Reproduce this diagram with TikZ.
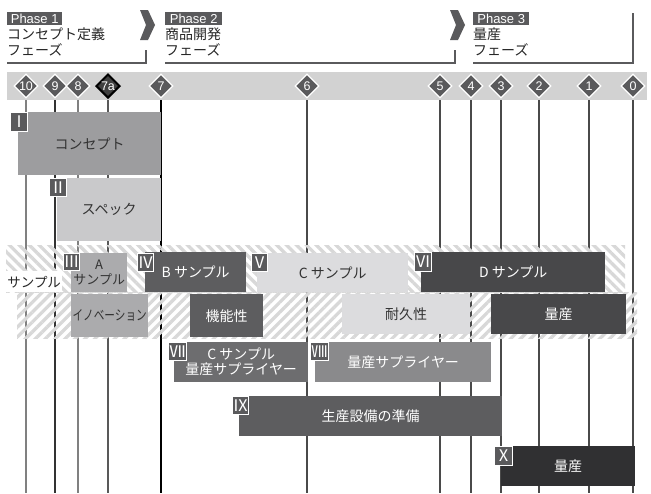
\documentclass[tikz,border=0pt]{standalone}
\usepackage{fontspec}
\setmainfont{Noto Sans CJK JP}
\newfontfamily\latf{Liberation Sans}
\usetikzlibrary{shapes.geometric,patterns.meta}
\definecolor{lab}{HTML}{5A5A5C}
\definecolor{bandc}{HTML}{D2D2D2}
\definecolor{hatchc}{HTML}{D8D8D8}
\definecolor{txtd}{HTML}{333333}
\definecolor{cI}{HTML}{9D9D9F}
\definecolor{cII}{HTML}{C9C9CB}
\definecolor{cIII}{HTML}{ABABAD}
\definecolor{cIV}{HTML}{5D5D5F}
\definecolor{cV}{HTML}{DCDCDE}
\definecolor{cVI}{HTML}{48484A}
\definecolor{cVII}{HTML}{6D6D6F}
\definecolor{cVIII}{HTML}{8A8A8C}
\definecolor{cX}{HTML}{303032}
\definecolor{lnA}{HTML}{808080}
\definecolor{lnB}{HTML}{4A4A4A}
\pgfdeclarelayer{bg}
\pgfsetlayers{bg,main}
\begin{document}
\begin{tikzpicture}[x=1pt,y=-1pt,
  bar/.style={anchor=north west, inner sep=0pt, align=center, font=\fontsize{14}{15}\selectfont},
  rn/.style={anchor=north west, fill=lab, draw=white, line width=1pt, text=white, inner sep=0pt, font=\fontsize{16}{16}\selectfont},
  dia/.style={diamond, aspect=1, minimum width=24pt, minimum height=24pt, inner sep=0pt, fill=lab, draw=white, line width=1.3pt, text=white, font=\latf\fontsize{12.5}{12.5}\selectfont},
  phlab/.style={anchor=north west, fill=lab, text=white, inner sep=0pt, minimum height=13pt, font=\latf\fontsize{13}{13}\selectfont},
  phtxt/.style={anchor=north west, inner sep=0pt, align=left, font=\fontsize{14}{15.5}\selectfont, text=black!85},
  brk/.style={draw=lab, line width=2pt},
  vl/.style={line width=1.5pt},
  hatchA/.style={pattern={Lines[angle=-45,distance=7pt,line width=3.3pt]}, pattern color=hatchc},
  hatchB/.style={pattern={Lines[angle=45,distance=7pt,line width=3.3pt]}, pattern color=hatchc}
]
\useasboundingbox (0,0) rectangle (651,493);

% phase headers
\node[phlab, minimum width=55pt] (p1) at (7,12) {Phase 1};
\node[phlab, minimum width=57pt] (p2) at (165,12) {Phase 2};
\node[phlab, minimum width=56pt] (p3) at (473,12) {Phase 3};
\node[phtxt] (t1) at (7,28) {コンセプト定義\\フェーズ};
\node[phtxt] (t2) at (165,28) {商品開発\\フェーズ};
\node[phtxt] (t3) at (473,28) {量産\\フェーズ};
\draw[brk] (7,63) -- (146,63) -- (146,50);
\draw[brk] (165,63) -- (455,63) -- (455,50);
\draw[brk] (473,63) -- (633,63) -- (633,13);
\fill[lab] (140,10) -- (148,10) -- (155,25) -- (148,40) -- (140,40) -- (146,25) -- cycle;
\fill[lab] (450,10) -- (458,10) -- (465,25) -- (458,40) -- (450,40) -- (456,25) -- cycle;

% milestone band
\fill[bandc] (7,72) rectangle (647,100);
\node[dia] (d10) at (26,86) {10};
\node[dia] (d9) at (55,86) {9};
\node[dia] (d8) at (78,86) {8};
\node[dia, draw=black, line width=2pt, fill=black!75] (d7a) at (108,86) {7a};
\node[dia] (d7) at (161,86) {7};
\node[dia] (d6) at (307,86) {6};
\node[dia] (d5) at (440,86) {5};
\node[dia] (d4) at (471,86) {4};
\node[dia] (d3) at (501,86) {3};
\node[dia] (d2) at (539,86) {2};
\node[dia] (d1) at (589,86) {1};
\node[dia] (d0) at (633,86) {0};

\foreach \n/\x in {10/26,9/55,8/78,7a/108,7/161,6/307,5/440,4/471,3/501,2/539,1/589,0/633}
  \coordinate (e\n) at (\x,493);
\begin{pgfonlayer}{bg}
  \draw[vl, lnA] (d10) -- (e10);
  \draw[vl, black!80] (d9) -- (e9);
  \draw[vl, lnA] (d8) -- (e8);
  \draw[vl, black!65] (d7a) -- (e7a);
  \draw[vl, black] (d7) -- (e7);
  \draw[vl, lnB] (d6) -- (e6);
  \draw[vl, lnB] (d5) -- (e5);
  \draw[vl, lnB] (d4) -- (e4);
  \draw[vl, lnB] (d3) -- (e3);
  \draw[vl, lnB] (d2) -- (e2);
  \draw[vl, lnB] (d1) -- (e1);
  \draw[vl, lnB] (d0) -- (e0);
\end{pgfonlayer}

% hatched sample rows
\fill[hatchA] (6,245) rectangle (625,292);
\fill[hatchB] (17,292) rectangle (637,338);
\node[anchor=north west, fill=white, inner sep=0pt, minimum width=56pt, minimum height=21pt, font=\fontsize{13.5}{14}\selectfont, text=black!85] (samp) at (6,271) {サンプル};

% bars
\node[bar, fill=cI, text=txtd, minimum width=143pt, minimum height=63pt] (bI) at (18,112) {コンセプト};
\node[rn, minimum width=17pt, minimum height=19pt] (lI) at (10,112) {Ⅰ};
\node[bar, fill=cII, text=txtd, minimum width=104pt, minimum height=63pt] (bII) at (57,178) {スペック};
\node[rn, minimum width=17pt, minimum height=18pt] (lII) at (49,178) {Ⅱ};

\node[bar, fill=cIII, text=txtd, minimum width=56pt, minimum height=39pt, font=\fontsize{13}{15}\selectfont] (bIII) at (71,253) {A\\サンプル};
\node[rn, minimum width=15pt, minimum height=17pt] (lIII) at (63,253) {Ⅲ};
\node[bar, fill=cIII, text=txtd, minimum width=77pt, minimum height=43pt] (bInn) at (71,294) {\scalebox{0.76}[1]{イノベーション}};

\node[bar, fill=cIV, text=white, minimum width=101pt, minimum height=40pt] (bIV) at (145,252) {B サンプル};
\node[rn, minimum width=16pt, minimum height=18pt] (lIV) at (137,253) {Ⅳ};
\node[bar, fill=cIV, text=white, minimum width=73pt, minimum height=43pt] (bFun) at (190,294) {機能性};

\node[bar, fill=cV, text=txtd, minimum width=151pt, minimum height=39pt] (bV) at (257,253) {C サンプル};
\node[rn, minimum width=16pt, minimum height=18pt] (lV) at (251,253) {Ⅴ};
\node[bar, fill=cV, text=txtd, minimum width=128pt, minimum height=40pt] (bDur) at (342,294) {耐久性};

\node[bar, fill=cVI, text=white, minimum width=184pt, minimum height=40pt] (bVI) at (421,252) {D サンプル};
\node[rn, minimum width=17pt, minimum height=19pt] (lVI) at (414,252) {Ⅵ};
\node[bar, fill=cVI, text=white, minimum width=135pt, minimum height=40pt] (bMP) at (491,294) {量産};

\node[bar, fill=cVII, text=white, minimum width=134pt, minimum height=40pt] (bVII) at (174,342) {C サンプル\\量産サプライヤー};
\node[rn, minimum width=18pt, minimum height=18pt] (lVII) at (168,342) {Ⅶ};
\node[bar, fill=cVIII, text=white, minimum width=176pt, minimum height=40pt] (bVIII) at (315,342) {量産サプライヤー};
\node[rn, minimum width=18pt, minimum height=18pt] (lVIII) at (310,342) {Ⅷ};

\node[bar, fill=cIV, text=white, minimum width=263pt, minimum height=40pt] (bIX) at (239,396) {生産設備の準備};
\node[rn, minimum width=16pt, minimum height=18pt] (lIX) at (232,396) {Ⅸ};

\node[bar, fill=cX, text=white, minimum width=134pt, minimum height=40pt] (bX) at (501,446) {量産};
\node[rn, minimum width=18pt, minimum height=19pt] (lX) at (494,446) {Ⅹ};
\end{tikzpicture}
\end{document}
